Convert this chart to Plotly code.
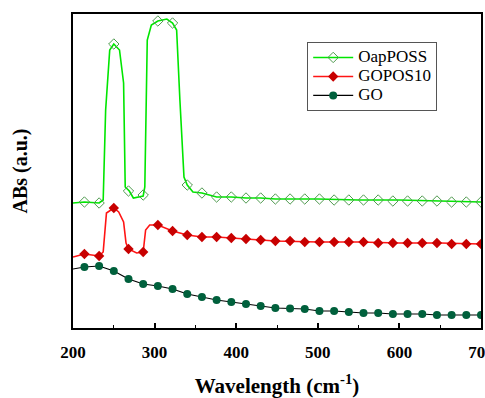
import plotly.graph_objects as go

# ---- data (absorbance, arbitrary units) ----
marker_wl = [214, 232, 250, 268, 286, 304, 322, 340, 358, 376, 394, 412, 430, 448,
             466, 484, 502, 520, 538, 556, 574, 592, 610, 628, 646, 664, 682, 700]

oap_line_wl = [200, 214, 232, 237, 240, 245, 250, 257, 262, 264, 269, 274, 286, 288,
               291, 296, 304, 315, 322, 327, 331, 336, 340, 347, 358, 376, 394, 412,
               430, 448, 500, 550, 600, 650, 700]
oap_line_v = [1.25, 1.26, 1.25, 1.28, 2.18, 2.78, 2.84, 2.78, 2.45, 1.41, 1.37, 1.30, 1.32, 1.41,
              2.88, 3.03, 3.07, 3.09, 3.05, 2.98, 2.28, 1.51, 1.43, 1.36, 1.35, 1.31, 1.31, 1.30,
              1.30, 1.29, 1.29, 1.28, 1.28, 1.27, 1.26]
oap_mark_v = [1.26, 1.25, 2.84, 1.37, 1.33, 3.07, 3.05, 1.43, 1.35, 1.31, 1.31, 1.30, 1.30, 1.29,
              1.29, 1.29, 1.29, 1.28, 1.28, 1.28, 1.28, 1.27, 1.27, 1.27, 1.27, 1.26, 1.26, 1.26]

gop_line_wl = [200, 214, 232, 237, 241, 250, 256, 262, 265, 268, 278, 286, 289, 294,
               304, 322, 340, 358, 376, 394, 412, 430, 448, 500, 550, 600, 650, 700]
gop_line_v = [0.71, 0.74, 0.72, 0.76, 1.15, 1.20, 1.16, 1.06, 0.85, 0.79, 0.75, 0.76, 0.98, 1.03,
              1.03, 0.97, 0.93, 0.91, 0.91, 0.90, 0.89, 0.88, 0.87, 0.86, 0.86, 0.85, 0.85, 0.84]
gop_mark_v = [0.74, 0.72, 1.20, 0.79, 0.76, 1.03, 0.97, 0.93, 0.91, 0.91, 0.90, 0.89, 0.88, 0.87,
              0.87, 0.86, 0.86, 0.86, 0.86, 0.86, 0.85, 0.85, 0.85, 0.85, 0.85, 0.84, 0.84, 0.84]

go_line_wl = [200] + marker_wl
go_mark_v = [0.61, 0.62, 0.57, 0.49, 0.44, 0.42, 0.39, 0.34, 0.31, 0.28, 0.26, 0.24, 0.22, 0.20,
             0.195, 0.19, 0.17, 0.17, 0.16, 0.15, 0.15, 0.14, 0.14, 0.14, 0.13, 0.13, 0.13, 0.13]
go_line_v = [0.59] + go_mark_v

names = ["OapPOSS", "GOPOS10", "GO"]
x_ticks = [200, 300, 400, 500, 600, 700]

FONT = "Liberation Serif"
GREEN_LINE = "#00e600"
GREEN_MARK = "#4f9a4f"
RED_LINE = "#ff1414"
RED_MARK = "#c80000"
GO_LINE = "#000000"
GO_MARK = "#00603c"

fig = go.Figure()

# lines
fig.add_trace(go.Scatter(x=oap_line_wl, y=oap_line_v, mode="lines",
                         line=dict(color=GREEN_LINE, width=1.6), showlegend=False))
fig.add_trace(go.Scatter(x=gop_line_wl, y=gop_line_v, mode="lines",
                         line=dict(color=RED_LINE, width=1.6), showlegend=False))
fig.add_trace(go.Scatter(x=go_line_wl, y=go_line_v, mode="lines",
                         line=dict(color=GO_LINE, width=1.2), showlegend=False))
# markers
fig.add_trace(go.Scatter(x=marker_wl, y=oap_mark_v, mode="markers",
                         marker=dict(symbol="diamond-open", size=8, color=GREEN_MARK,
                                     line=dict(width=1, color=GREEN_MARK)), showlegend=False))
fig.add_trace(go.Scatter(x=marker_wl, y=gop_mark_v, mode="markers",
                         marker=dict(symbol="diamond", size=8, color=RED_MARK,
                                     line=dict(width=0)), showlegend=False))
fig.add_trace(go.Scatter(x=marker_wl, y=go_mark_v, mode="markers",
                         marker=dict(symbol="circle", size=8, color=GO_MARK,
                                     line=dict(width=0)), showlegend=False))
# legend entries
leg_name = lambda s: '<span style="font-size:17px">' + s + '</span>'
fig.add_trace(go.Scatter(x=[None], y=[None], mode="lines+markers", name=leg_name(names[0]),
                         line=dict(color=GREEN_LINE, width=1.6),
                         marker=dict(symbol="diamond-open", size=8, color=GREEN_MARK,
                                     line=dict(width=1, color=GREEN_MARK))))
fig.add_trace(go.Scatter(x=[None], y=[None], mode="lines+markers", name=leg_name(names[1]),
                         line=dict(color=RED_LINE, width=1.6),
                         marker=dict(symbol="diamond", size=8, color=RED_MARK)))
fig.add_trace(go.Scatter(x=[None], y=[None], mode="lines+markers", name=leg_name(names[2]),
                         line=dict(color=GO_LINE, width=1.2),
                         marker=dict(symbol="circle", size=8, color=GO_MARK)))

fig.update_layout(
    width=485, height=398,
    margin=dict(l=73, r=4, t=14, b=70, autoexpand=False),
    paper_bgcolor="white", plot_bgcolor="white",
    font=dict(family=FONT, color="black"),
    legend=dict(x=0.574, y=0.911, xanchor="left", yanchor="top",
                bgcolor="white", bordercolor="#555555", borderwidth=1,
                font=dict(family=FONT, size=12, color="black"),
                itemwidth=40, tracegroupgap=0),
    showlegend=True,
)
fig.update_xaxes(
    range=[200, 700], tickvals=x_ticks, ticktext=[str(t) for t in x_ticks],
    ticks="inside", ticklen=5, tickwidth=1.5, tickcolor="black",
    minor=dict(ticks="inside", dtick=50, ticklen=3, tickwidth=1.2, tickcolor="black"),
    showline=True, linewidth=2, linecolor="black", mirror=True,
    showgrid=False, zeroline=False, automargin=False,
    tickfont=dict(family=FONT, size=17, color="black", weight="bold"),
    ticklabelstandoff=8, ticklabeloverflow="allow",
    title=dict(text="<b>Wavelength (cm<sup>-1</sup>)</b>", standoff=19,
               font=dict(family=FONT, size=21, color="black")),
)
fig.update_yaxes(
    range=[0, 3.14], showticklabels=False, ticks="",
    showline=True, linewidth=2, linecolor="black", mirror=True,
    showgrid=False, zeroline=False, automargin=False,
    title=dict(text="<b>ABs (a.u.)</b>", standoff=38,
               font=dict(family=FONT, size=20, color="black")),
)

fig.write_html("out.html")
